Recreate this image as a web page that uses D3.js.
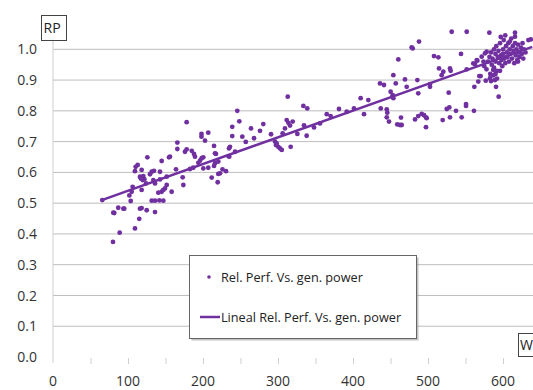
<!DOCTYPE html>
<html>
<head>
<meta charset="utf-8">
<script src="https://cdn.jsdelivr.net/npm/d3@7"></script>
<style>
  html, body { margin: 0; padding: 0; background: #fff; }
  svg { display: block; font-family: "Open Sans", sans-serif; }
</style>
</head>
<body>
<svg id="chart" width="533" height="390"></svg>
<script>
// generator power (W) and relative performance
const genPower = [
  65.7, 80.4, 81.7, 87, 93.8, 95, 80, 88.9, 103.6, 101.8, 106.2, 104.9, 109.3, 115, 116, 118.2, 124.9, 136,
  131.6, 136, 141.8, 147.1, 109.3, 110.2, 112.9, 116, 118.2, 120.4, 121.8, 119.6, 117, 125.8, 118.2, 124,
  118.2, 129.3, 131.6, 134.7, 133.8, 136, 142.7, 144.9, 154.7, 156, 142.7, 151.6, 151.6, 149.3, 144.9, 140.4,
  147.1, 158.2, 164, 165.8, 165.8, 172.9, 173.8, 176, 178.2, 185, 188, 189.3, 182.7, 187, 193.8, 196, 198.2,
  200.4, 198, 198, 207, 202.7, 200.4, 207, 211.6, 219.6, 216, 220.4, 214.7, 216, 222.7, 226, 230.7, 234.7,
  236, 239, 233.8, 242.7, 178.2,
  217.3, 214.7, 220.4, 235, 239, 245.7, 248.4, 252.4, 257, 264, 268, 276, 280.4, 290.7, 296, 298.2, 300.4,
  302.7, 305, 297.3, 316.9, 306.2, 309.3, 311.6, 313.8, 316, 319.6, 313, 325.8, 333.8, 339, 334.7, 338.2,
  348, 356, 365, 370.2, 381.3, 391.6, 401.3, 410.2, 414.7, 420.4,
  437, 445, 445.7, 445, 448, 436, 441.3, 450.2, 452.9, 453.8, 457, 453.8, 460.4, 478.2, 479.6, 488, 469.3,
  471.6, 459, 462.7, 464.9, 464, 485.8, 487, 502.7, 502.7, 482.7, 487, 491.6, 494.7, 497.3, 498.2, 497.3,
  508, 513.8, 514.7, 518.2, 520.4, 527.6, 529.3, 530.2, 531.6, 544, 551.6, 519.6, 525, 528.4, 529.3, 537.3,
  544.9, 550.7, 550.7, 561.3, 551.6, 562.7, 565.8, 561.8, 567, 568.4, 570.2, 577, 582.7, 584, 589.3, 590.7,
  594.2, 581.8, 616, 616, 633.8, 637, 560.4, 565, 571.6, 576, 578.2, 587, 590,
  580, 582, 584, 585, 586, 588, 588, 590, 590, 591, 592, 593, 594, 595, 596, 597, 598, 599, 600, 600, 601,
  602, 603, 604, 605, 606, 607, 608, 609, 610, 611, 612, 613, 614, 615, 616, 617, 618, 619, 620, 621, 622,
  624, 625, 627, 628, 630, 583, 587, 592, 596, 575, 578, 574, 597, 603, 609, 620, 626
];
const relPerf = [
  0.510, 0.469, 0.468, 0.485, 0.482, 0.482, 0.374, 0.404, 0.507, 0.525, 0.553, 0.537, 0.418, 0.449, 0.482,
  0.484, 0.477, 0.471, 0.508, 0.508, 0.509, 0.508, 0.604, 0.618, 0.624, 0.586, 0.583, 0.588, 0.578, 0.575,
  0.580, 0.649, 0.608, 0.564, 0.543, 0.594, 0.602, 0.605, 0.575, 0.564, 0.602, 0.637, 0.649, 0.651, 0.577,
  0.586, 0.559, 0.548, 0.537, 0.534, 0.543, 0.537, 0.610, 0.697, 0.676, 0.584, 0.559, 0.667, 0.675, 0.670,
  0.660, 0.651, 0.611, 0.615, 0.631, 0.638, 0.646, 0.649, 0.725, 0.716, 0.729, 0.703, 0.613, 0.615, 0.583,
  0.568, 0.630, 0.635, 0.686, 0.662, 0.597, 0.610, 0.604, 0.678, 0.683, 0.718, 0.653, 0.667, 0.763,
  0.660, 0.621, 0.595, 0.651, 0.748, 0.800, 0.766, 0.716, 0.699, 0.743, 0.711, 0.735, 0.757, 0.724, 0.700,
  0.694, 0.683, 0.678, 0.673, 0.689, 0.683, 0.727, 0.743, 0.770, 0.761, 0.752, 0.765, 0.846, 0.725, 0.816,
  0.808, 0.753, 0.719, 0.746, 0.759, 0.789, 0.783, 0.806, 0.797, 0.808, 0.841, 0.789, 0.835,
  0.808, 0.805, 0.794, 0.779, 0.765, 0.889, 0.884, 0.862, 0.851, 0.841, 0.889, 0.916, 0.967, 1.006, 1.003,
  1.025, 0.902, 0.878, 0.756, 0.754, 0.754, 0.778, 0.900, 0.857, 0.887, 0.878, 0.772, 0.783, 0.790, 0.786,
  0.779, 0.776, 0.747, 0.978, 0.974, 0.938, 0.916, 0.927, 0.859, 0.938, 0.930, 1.057, 0.985, 1.057, 0.770,
  0.806, 0.811, 0.779, 0.800, 0.779, 0.822, 0.816, 0.800, 0.935, 0.952, 0.963, 0.878, 0.895, 0.913, 0.913,
  0.898, 0.906, 0.897, 0.900, 0.878, 0.846, 1.054, 1.054, 1.041, 1.030, 1.032, 0.954, 0.965, 0.976, 0.987,
  0.992, 0.933, 0.920,
  0.960, 0.975, 0.990, 0.950, 0.970, 1.000, 0.940, 0.985, 0.960, 1.010, 0.930, 0.975, 0.995, 0.955, 1.020,
  0.980, 0.965, 0.945, 1.000, 0.985, 1.030, 0.970, 0.955, 1.010, 0.990, 0.975, 1.020, 0.960, 1.000, 0.985,
  1.035, 0.970, 1.010, 0.995, 0.955, 1.020, 0.980, 1.000, 0.965, 1.015, 0.990, 0.975, 1.005, 0.985, 0.970,
  1.000, 0.990, 0.920, 0.915, 0.905, 0.930, 0.945, 0.935, 0.960, 1.040, 1.045, 1.025, 0.960, 1.020
];
// linear trend line ends
const trendPower = [65, 639];
const trendPerf = [0.510, 1.008];

const xLabels = [0, 100, 200, 300, 400, 500, 600];
const xMinorTicks = [50, 100, 150, 200, 250, 300, 350, 400, 450, 500, 550, 600];
const yTicks = [0, 0.1, 0.2, 0.3, 0.4, 0.5, 0.6, 0.7, 0.8, 0.9, 1.0];

const seriesName = 'Rel. Perf. Vs. gen. power';
const trendName = 'Lineal Rel. Perf. Vs. gen. power';
const purple = '#7030a0';

const svg = d3.select('#chart');

const x = d3.scaleLinear().domain([0, 640]).range([53, 533]);
const y = d3.scaleLinear().domain([0, 1]).range([357, 49.3]);

// gridlines
svg.append('g')
  .selectAll('line')
  .data(yTicks.filter(d => d > 0))
  .enter()
  .append('line')
  .attr('x1', x(0))
  .attr('x2', 533)
  .attr('y1', d => y(d))
  .attr('y2', d => y(d))
  .attr('stroke', '#bdbdbd')
  .attr('stroke-width', 1);

// y axis line
svg.append('line')
  .attr('x1', x(0)).attr('x2', x(0))
  .attr('y1', 40).attr('y2', 363)
  .attr('stroke', '#cfcfcf')
  .attr('stroke-width', 1);

// y labels
svg.append('g')
  .selectAll('text')
  .data(yTicks)
  .enter()
  .append('text')
  .attr('x', 37)
  .attr('y', d => y(d))
  .attr('dy', '0.36em')
  .attr('text-anchor', 'end')
  .style('font-size', '14px')
  .style('fill', '#333')
  .text(d => d.toFixed(1));

// x ticks (short, below the zero line)
const xAxis = d3.axisBottom(x)
  .tickValues(xMinorTicks)
  .tickSize(6)
  .tickFormat('');

const gx = svg.append('g')
  .attr('transform', `translate(0, ${y(0) + 1})`)
  .call(xAxis);
gx.select('.domain').remove();
gx.selectAll('.tick line').attr('stroke', '#cfcfcf');

svg.append('g')
  .selectAll('text')
  .data(xLabels)
  .enter()
  .append('text')
  .attr('x', d => x(d))
  .attr('y', 381)
  .attr('dy', '0.36em')
  .attr('text-anchor', 'middle')
  .style('font-size', '14px')
  .style('fill', '#333')
  .text(d => d);

// trend line
const line = d3.line()
  .x(d => x(d[0]))
  .y(d => y(d[1]));

svg.append('path')
  .datum(trendPower.map((p, i) => [p, trendPerf[i]]))
  .attr('fill', 'none')
  .attr('stroke', purple)
  .attr('stroke-width', 2.5)
  .attr('d', line);

// points
svg.append('g')
  .selectAll('circle')
  .data(genPower.map((p, i) => [p, relPerf[i]]))
  .enter()
  .append('circle')
  .attr('cx', d => x(d[0]))
  .attr('cy', d => y(d[1]))
  .attr('r', 2.4)
  .attr('fill', purple);

// axis title boxes
function titleBox(bx, by, bw, bh, label, tx) {
  svg.append('rect')
    .attr('x', bx).attr('y', by)
    .attr('width', bw).attr('height', bh)
    .attr('fill', '#fff')
    .attr('stroke', '#444')
    .attr('stroke-width', 1);
  svg.append('text')
    .attr('x', tx)
    .attr('y', by + bh / 2)
    .attr('dy', '0.36em')
    .style('font-size', '14px')
    .style('fill', '#222')
    .text(label);
}
titleBox(41.5, 15.5, 25, 25, 'RP', 43.5);
titleBox(518.5, 333.5, 20, 23, 'W', 520);

// legend
const lg = svg.append('g');
lg.append('rect')
  .attr('x', 191.5).attr('y', 257.5)
  .attr('width', 227).attr('height', 83)
  .attr('fill', '#9a9a9a')
  .attr('opacity', 0.6);
lg.append('rect')
  .attr('x', 189.5).attr('y', 255.5)
  .attr('width', 227).attr('height', 83)
  .attr('fill', '#fff')
  .attr('stroke', '#666')
  .attr('stroke-width', 1);
lg.append('circle')
  .attr('cx', 209).attr('cy', 277)
  .attr('r', 1.8)
  .attr('fill', purple);
lg.append('text')
  .attr('x', 221).attr('y', 277)
  .attr('dy', '0.36em')
  .style('font-size', '12.7px')
  .style('fill', '#222')
  .text(seriesName);
lg.append('line')
  .attr('x1', 200).attr('x2', 220)
  .attr('y1', 317).attr('y2', 317)
  .attr('stroke', purple)
  .attr('stroke-width', 2.5);
lg.append('text')
  .attr('x', 221).attr('y', 317)
  .attr('dy', '0.36em')
  .style('font-size', '12.7px')
  .style('fill', '#222')
  .text(trendName);
</script>
</body>
</html>
